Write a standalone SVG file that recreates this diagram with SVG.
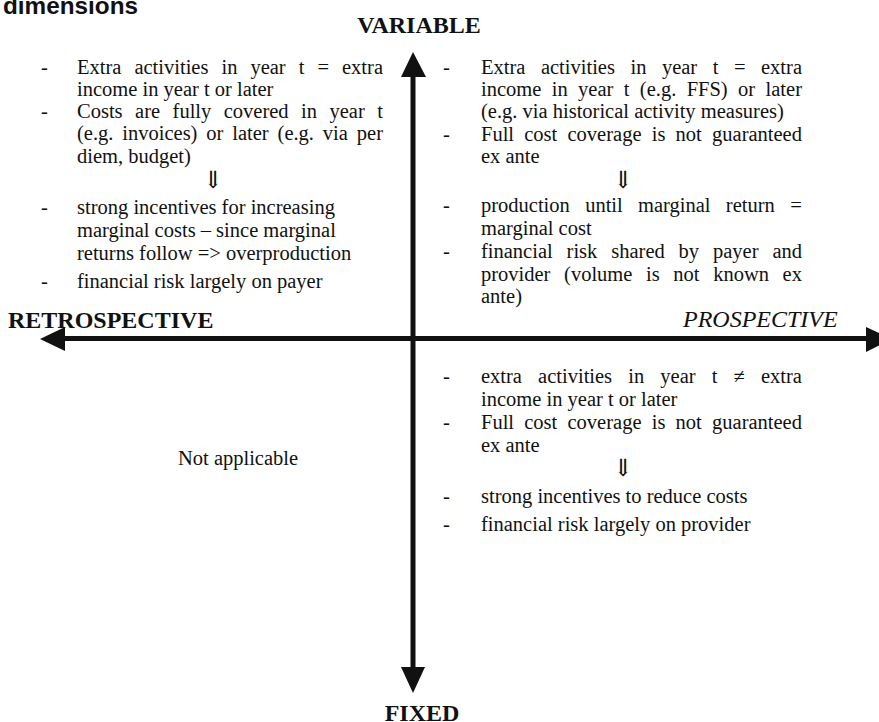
<svg xmlns="http://www.w3.org/2000/svg" width="879" height="722" viewBox="0 0 879 722">
<style>
.t{font-family:"Liberation Serif","DejaVu Serif",serif;font-size:20.5px;fill:#111}
.ar{font-family:"DejaVu Serif","Liberation Serif",serif;font-size:24px;fill:#111;text-anchor:middle}
.ax{font-family:"Liberation Serif",serif;font-size:24px;font-weight:bold;fill:#111}
.axi{font-family:"Liberation Serif",serif;font-size:24px;font-style:italic;fill:#111}
.title{font-family:"Liberation Sans",Arial,sans-serif;font-size:24px;font-weight:bold;fill:#111}
.line{stroke:#111;stroke-width:5;fill:none}
.head{fill:#111}
</style>
<rect width="879" height="722" fill="#fff"/>
<text class="title" x="3" y="14" textLength="135" lengthAdjust="spacingAndGlyphs">dimensions</text>

<g id="axes">
  <line class="line" x1="413" y1="70" x2="413" y2="672"/>
  <polygon class="head" points="413,52 401,77 426,77"/>
  <polygon class="head" points="413,693 401,667 425,667"/>
  <line class="line" x1="60" y1="338.5" x2="870" y2="338.5"/>
  <polygon class="head" points="40,339 65,327 65,351"/>
  <polygon class="head" points="892,339 866,327 866,352"/>
</g>

<g id="label-variable"><text class="ax" x="419" y="33" text-anchor="middle">VARIABLE</text></g>
<g id="label-fixed"><text class="ax" x="422" y="721" text-anchor="middle">FIXED</text></g>
<g id="label-retrospective"><text class="ax" x="8" y="328">RETROSPECTIVE</text></g>
<g id="label-prospective"><text class="axi" x="683" y="327">PROSPECTIVE</text></g>

<g id="quadrant-top-left">
  <text class="t" x="41" y="74">-</text>
  <text class="t" x="77" y="74" style="word-spacing:7.9px">Extra activities in year t = extra</text>
  <text class="t" x="77" y="96">income in year t or later</text>
  <text class="t" x="41" y="118">-</text>
  <text class="t" x="77" y="118" style="word-spacing:7.35px">Costs are fully covered in year t</text>
  <text class="t" x="77" y="140" style="word-spacing:3.75px">(e.g. invoices) or later (e.g. via per</text>
  <text class="t" x="77" y="163">diem, budget)</text>
  <text class="ar" x="213" y="188">⇓</text>
  <text class="t" x="41" y="214">-</text>
  <text class="t" x="77" y="214">strong incentives for increasing</text>
  <text class="t" x="77" y="237">marginal costs – since marginal</text>
  <text class="t" x="77" y="260">returns follow =&gt; overproduction</text>
  <text class="t" x="41" y="288">-</text>
  <text class="t" x="77" y="288">financial risk largely on payer</text>
</g>

<g id="quadrant-top-right">
  <text class="t" x="443" y="74">-</text>
  <text class="t" x="481" y="74" style="word-spacing:10.4px">Extra activities in year t = extra</text>
  <text class="t" x="481" y="96" style="word-spacing:5.27px">income in year t (e.g. FFS) or later</text>
  <text class="t" x="481" y="118">(e.g. via historical activity measures)</text>
  <text class="t" x="443" y="141">-</text>
  <text class="t" x="481" y="141" style="word-spacing:5.1px">Full cost coverage is not guaranteed</text>
  <text class="t" x="481" y="163">ex ante</text>
  <text class="ar" x="623" y="188">⇓</text>
  <text class="t" x="443" y="212">-</text>
  <text class="t" x="481" y="212" style="word-spacing:10.2px">production until marginal return =</text>
  <text class="t" x="481" y="235">marginal cost</text>
  <text class="t" x="443" y="258">-</text>
  <text class="t" x="481" y="258" style="word-spacing:8.76px">financial risk shared by payer and</text>
  <text class="t" x="481" y="281" style="word-spacing:8.5px">provider (volume is not known ex</text>
  <text class="t" x="481" y="303">ante)</text>
</g>

<g id="quadrant-bottom-right">
  <text class="t" x="443" y="383">-</text>
  <text class="t" x="481" y="383" style="word-spacing:11px">extra activities in year t ≠ extra</text>
  <text class="t" x="481" y="406">income in year t or later</text>
  <text class="t" x="443" y="429">-</text>
  <text class="t" x="481" y="429" style="word-spacing:5.1px">Full cost coverage is not guaranteed</text>
  <text class="t" x="481" y="452">ex ante</text>
  <text class="ar" x="623" y="476">⇓</text>
  <text class="t" x="443" y="503">-</text>
  <text class="t" x="481" y="503">strong incentives to reduce costs</text>
  <text class="t" x="443" y="531">-</text>
  <text class="t" x="481" y="531">financial risk largely on provider</text>
</g>

<g id="quadrant-bottom-left">
  <text class="t" x="178" y="465">Not applicable</text>
</g>
</svg>
